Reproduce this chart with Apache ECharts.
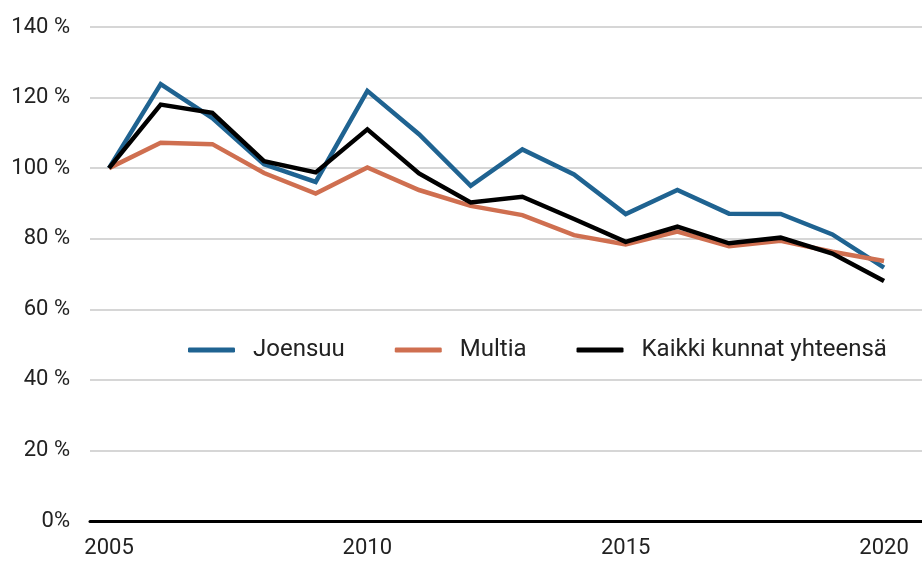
<!DOCTYPE html>
<html>
<head>
<meta charset="utf-8">
<script src="https://cdn.jsdelivr.net/npm/echarts@6/dist/echarts.min.js"></script>
<style>
  html, body { margin: 0; padding: 0; background: #fff; }
  #chart { width: 922px; height: 562px; }
</style>
</head>
<body>
<div id="chart"></div>
<script>
const years = [2005, 2006, 2007, 2008, 2009, 2010, 2011, 2012, 2013, 2014, 2015, 2016, 2017, 2018, 2019, 2020];
const joensuu = [100, 123.8, 114.2, 101.1, 96.1, 121.9, 109.6, 95.0, 105.3, 98.2, 87.0, 93.8, 87.1, 87.0, 81.2, 71.8];
const multia = [100, 107.2, 106.8, 98.6, 92.8, 100.2, 93.8, 89.3, 86.7, 81.0, 78.4, 82.0, 77.9, 79.4, 76.3, 73.7];
const kaikki = [100, 118.0, 115.7, 102.0, 98.8, 111.0, 98.5, 90.3, 91.9, 85.6, 79.1, 83.4, 78.7, 80.3, 75.8, 68.0];
const yearLabels = [2005, 2010, 2015, 2020];

const fontFamily = "Roboto, sans-serif";
const chart = echarts.init(document.getElementById("chart"));

function pairs(values) {
  return years.map((year, i) => [year, values[i]]);
}

function lineSeries(name, values, color) {
  return {
    name: name,
    type: "line",
    data: pairs(values),
    showSymbol: false,
    symbol: "none",
    lineStyle: { color: color, width: 4.5, join: "miter" },
    itemStyle: { color: color },
    animation: false,
  };
}

chart.setOption({
  animation: false,
  grid: { left: 90, right: 0, top: 27, bottom: 41 },
  legend: {
    left: 183,
    top: 333,
    icon: "roundRect",
    itemWidth: 47,
    itemHeight: 5,
    itemGap: 50,
    textStyle: { fontFamily: fontFamily, fontSize: 24, color: "#222", padding: [0, 0, 0, 13] },
    data: ["Joensuu", "Multia", "Kaikki kunnat yhteensä"],
  },
  xAxis: {
    type: "value",
    min: 2004.632,
    max: 2020.735,
    axisLine: { lineStyle: { color: "#000", width: 3 } },
    axisTick: { show: false },
    splitLine: { show: false },
    axisLabel: {
      customValues: yearLabels,
      formatter: (v) => String(v),
      fontFamily: fontFamily,
      fontSize: 22,
      color: "#222",
      margin: 16,
    },
  },
  yAxis: {
    type: "value",
    min: 0,
    max: 140,
    interval: 20,
    axisLine: { show: false },
    axisTick: { show: false },
    splitLine: { lineStyle: { color: "#c8c8c8", width: 1.5 } },
    axisLabel: {
      formatter: (v) => (v === 0 ? "0%" : v + " %"),
      fontFamily: fontFamily,
      fontSize: 22,
      color: "#222",
      margin: 20,
    },
  },
  series: [
    lineSeries("Joensuu", joensuu, "#1f6391"),
    lineSeries("Multia", multia, "#cf6f50"),
    lineSeries("Kaikki kunnat yhteensä", kaikki, "#000000"),
  ],
});

window.addEventListener("resize", () => chart.resize());
</script>
</body>
</html>
